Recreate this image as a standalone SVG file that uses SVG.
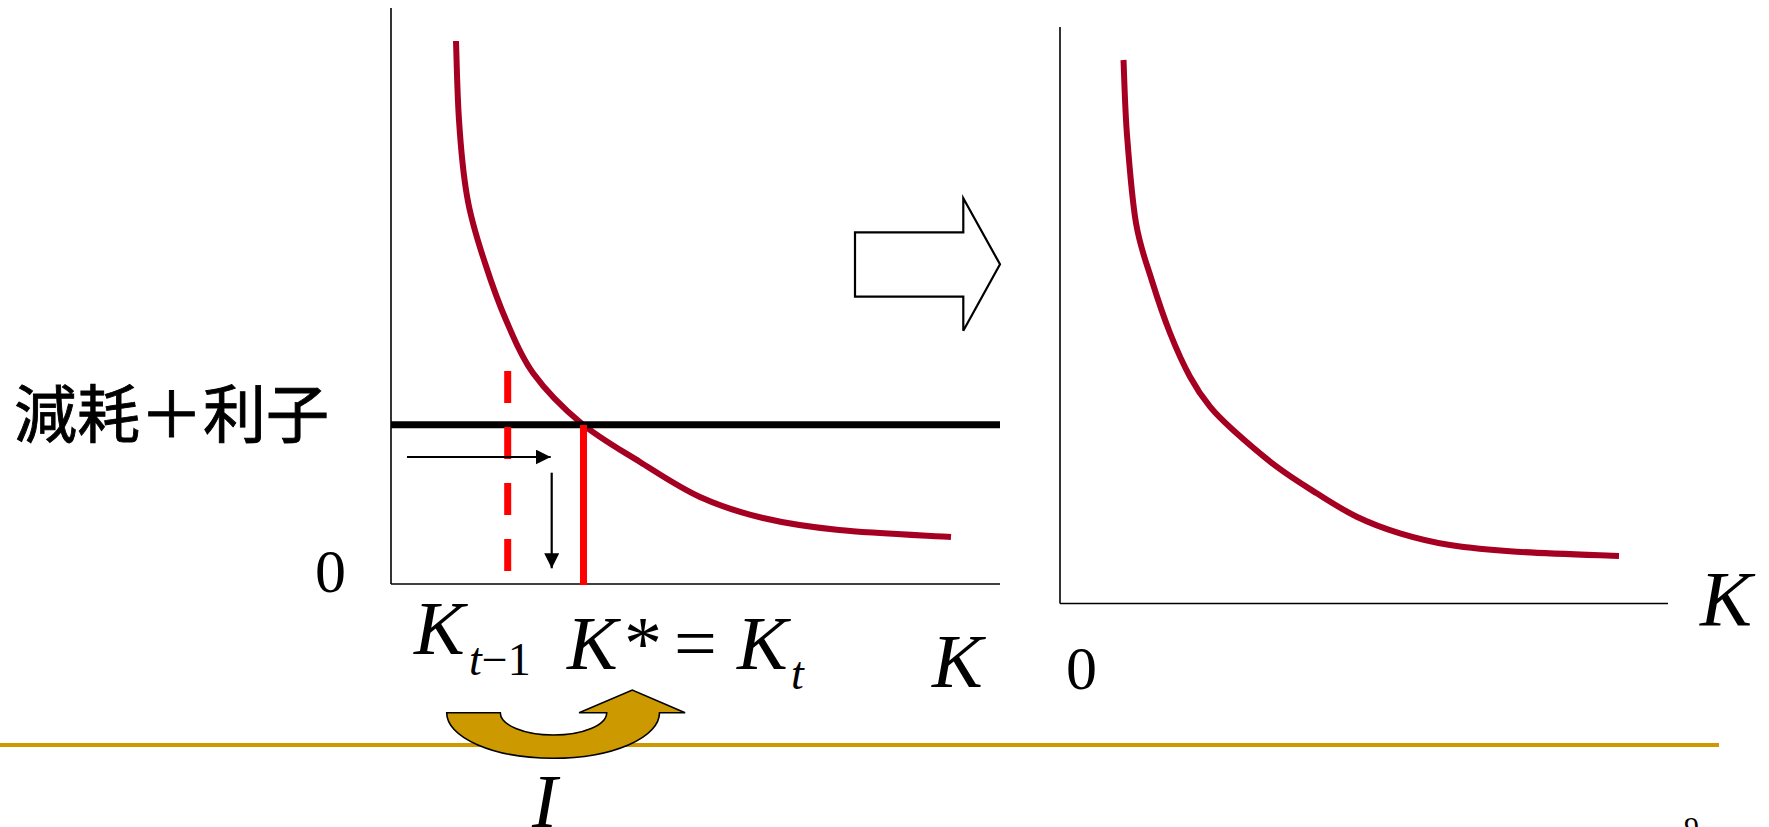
<svg xmlns="http://www.w3.org/2000/svg" width="1769" height="827" viewBox="0 0 1769 827">
<style>
.axis{stroke:#000;stroke-width:1.6;fill:none}
.curve{stroke:#A50021;stroke-width:6;fill:none;stroke-linecap:butt;stroke-linejoin:round}
.red{stroke:#FF0000;stroke-width:7;fill:none}
.thin{stroke:#000;stroke-width:2.2;fill:none}
.m{font-family:"Liberation Serif","Times New Roman",serif;fill:#000}
.it{font-style:italic}
.jp{font-family:"Noto Sans CJK JP","Noto Sans CJK SC",sans-serif;fill:#000;stroke:#000;stroke-width:0.9}
</style>
<defs>
<marker id="ah" markerUnits="userSpaceOnUse" markerWidth="15" markerHeight="15" refX="15" refY="7.5" orient="auto">
<path d="M0,0 L15,7.5 L0,15 Z" fill="#000"/>
</marker>
</defs>
<rect width="1769" height="827" fill="#fff"/>
<line x1="0" y1="745" x2="1719" y2="745" stroke="#CC9900" stroke-width="4"/>
<g id="left-chart">
<line class="axis" x1="391" y1="8" x2="391" y2="584"/>
<line class="axis" x1="391" y1="584" x2="1000" y2="584"/>
<path class="curve" d="M456,41 C456.5,54.2 457.2,93.5 459,120 C460.5,143 462.5,170 467,196 C471.3,222 478.5,243 485,263 C491.5,283 498,301.7 506,320 C514,338.3 520.5,355.8 533,373 C545.5,390.2 563.2,408.2 581,423 C598.8,437.8 620.2,449.7 640,462 C659.8,474.3 679.5,487.7 700,497 C720.5,506.3 739.8,512.5 763,518 C786.2,523.5 807.7,526.8 839,530 C870.3,533.2 932.3,535.8 951,537"/>
<line x1="391" y1="424.7" x2="1000" y2="424.7" stroke="#000" stroke-width="7"/>
<line class="red" x1="507.7" y1="371" x2="507.7" y2="571" stroke-dasharray="32 24"/>
<line class="red" x1="583.5" y1="425" x2="583.5" y2="585"/>
</g>
<g id="connectors">
<line class="thin" x1="407" y1="457" x2="550.7" y2="457" marker-end="url(#ah)"/>
<line class="thin" x1="551.7" y1="472.7" x2="551.7" y2="568.3" marker-end="url(#ah)"/>
</g>
<g id="right-chart">
<line class="axis" x1="1060" y1="27" x2="1060" y2="603.5"/>
<line class="axis" x1="1060" y1="603.5" x2="1668" y2="603.5"/>
<path class="curve" d="M1123.5,60 C1124.1,72.5 1124.9,107.8 1127,135 C1129.1,162.2 1131.9,198.8 1136,223 C1140.1,247.2 1146,261.7 1151.7,280 C1157.4,298.3 1163.6,316.9 1170,333 C1176.4,349.1 1183.3,364.4 1190,376.7 C1196.7,389 1202.8,397.8 1210,406.7 C1217.2,415.6 1221.9,420 1233,430 C1244.1,440 1262.7,456.1 1276.7,466.7 C1290.7,477.3 1303.4,485 1316.7,493.3 C1330,501.6 1342.8,510 1356.7,516.7 C1370.6,523.4 1384.5,528.6 1400,533.3 C1415.5,538 1430.6,541.9 1450,545 C1469.5,548.1 1488.5,549.9 1516.7,551.7 C1544.9,553.5 1602,555.3 1619,556"/>
</g>
<g id="transform-arrow">
<path d="M855,232.3 L963.3,232.3 L963.3,198.3 L1000,264.3 L963.3,330.7 L963.3,296.7 L855,296.7 Z" fill="#fff" stroke="#000" stroke-width="2.2"/>
</g>
<g id="investment-arrow">
<path d="M446.7,712.7 L500.3,712.7 A53.2,22.3 0 0 0 606.7,712.7 L579.1,712.7 L632.3,690 L685.1,712.7 L659.5,712.7 A106.4,45.6 0 0 1 446.7,712.7 Z" fill="#CC9900" stroke="#000" stroke-width="1.6" stroke-linejoin="miter"/>
</g>
<g id="labels">
<text class="jp" x="14" y="437" font-size="63">減耗＋利子</text>
<text class="m" x="315" y="592" font-size="62">0</text>
<text class="m it" x="414" y="654" font-size="76">K</text>
<text class="m" x="469" y="675" font-size="46"><tspan font-style="italic">t</tspan>−1</text>
<text class="m it" x="567" y="669" font-size="76">K</text>
<text class="m" x="624" y="669" font-size="76">*</text>
<text class="m" x="674" y="669" font-size="76">=</text>
<text class="m it" x="737" y="669" font-size="76">K</text>
<text class="m it" x="791" y="689" font-size="46">t</text>
<text class="m it" x="932" y="687" font-size="76">K</text>
<text class="m" x="1066" y="689" font-size="62">0</text>
<text class="m it" x="1700" y="625" font-size="78">K</text>
<text class="m it" x="532" y="827" font-size="76">I</text>
<text class="m" x="1684" y="837" font-size="30">9</text>
</g>
</svg>
